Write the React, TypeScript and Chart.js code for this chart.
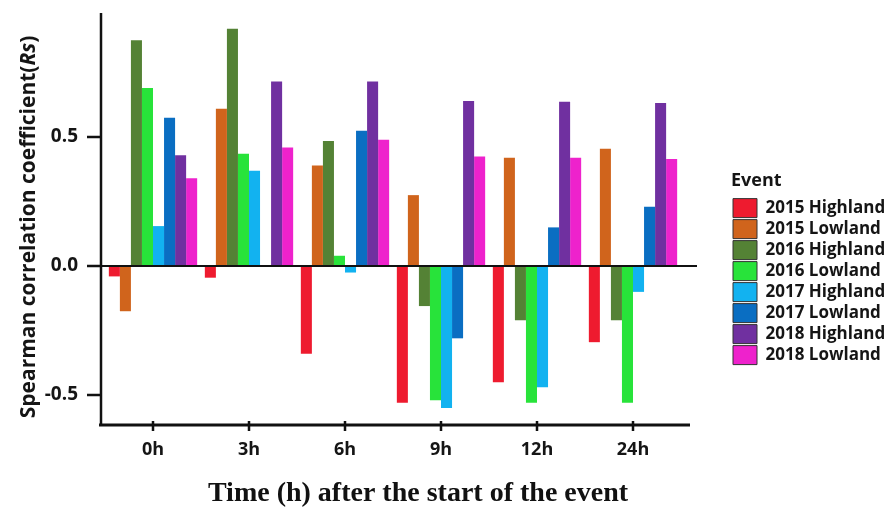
import React, { useEffect, useRef } from 'react';
import { Chart, registerables } from 'chart.js';

Chart.register(...registerables);

// ---- data ----
const categories = ['0h', '3h', '6h', '9h', '12h', '24h'];
const seriesNames = [
  '2015 Highland', '2015 Lowland', '2016 Highland', '2016 Lowland',
  '2017 Highland', '2017 Lowland', '2018 Highland', '2018 Lowland',
];
const highland2015 = [-0.04, -0.045, -0.34, -0.53, -0.45, -0.295];
const lowland2015 = [-0.175, 0.61, 0.39, 0.275, 0.42, 0.455];
const highland2016 = [0.875, 0.92, 0.485, -0.155, -0.21, -0.21];
const lowland2016 = [0.69, 0.435, 0.04, -0.52, -0.53, -0.53];
const highland2017 = [0.155, 0.37, -0.025, -0.55, -0.47, -0.1];
const lowland2017: (number | null)[] = [0.575, null, 0.525, -0.28, 0.15, 0.23];
const highland2018 = [0.43, 0.715, 0.715, 0.64, 0.637, 0.632];
const lowland2018 = [0.34, 0.46, 0.49, 0.425, 0.42, 0.415];
const yTickValues = [-0.5, 0, 0.5];

const seriesValues = [
  highland2015, lowland2015, highland2016, lowland2016,
  highland2017, lowland2017, highland2018, lowland2018,
];
const seriesColors = [
  '#EE1B2F', '#D0641C', '#548235', '#28E33A',
  '#12B2F0', '#0A6EC2', '#7030A0', '#EE22CC',
];

const FONT = '"Open Sans", "Liberation Sans", sans-serif';
const TEXT = '#151515';
const CAT_SPACING = 96; // px per category

const axesPlugin = {
  id: 'axesLines',
  afterDatasetsDraw(chart: any) {
    const { ctx, chartArea, scales } = chart;
    const x = scales.x;
    const y = scales.y;
    const axX = chartArea.left - 4;
    ctx.save();
    ctx.strokeStyle = '#111';
    ctx.lineCap = 'butt';
    // zero line
    ctx.lineWidth = 2;
    const z = y.getPixelForValue(0);
    ctx.beginPath();
    ctx.moveTo(axX, z);
    ctx.lineTo(x.getPixelForValue(categories.length - 1) + 64, z);
    ctx.stroke();
    // y axis
    ctx.lineWidth = 2.5;
    ctx.beginPath();
    ctx.moveTo(axX, chartArea.top);
    ctx.lineTo(axX, chartArea.bottom + 1);
    yTickValues.forEach((v) => {
      const py = y.getPixelForValue(v);
      ctx.moveTo(axX - 14, py);
      ctx.lineTo(axX, py);
    });
    ctx.stroke();
    // x axis
    ctx.lineWidth = 3;
    ctx.beginPath();
    ctx.moveTo(axX - 2, chartArea.bottom);
    ctx.lineTo(x.getPixelForValue(categories.length - 1) + 57, chartArea.bottom);
    ctx.stroke();
    ctx.lineWidth = 2.5;
    ctx.beginPath();
    categories.forEach((_, i) => {
      const px = x.getPixelForValue(i);
      ctx.moveTo(px, chartArea.bottom - 4);
      ctx.lineTo(px, chartArea.bottom + 6);
    });
    ctx.stroke();

    // y axis title with italic "Rs"
    const parts = [
      { t: 'Spearman correlation coefficient(', f: `bold 21px ${FONT}` },
      { t: 'Rs', f: `italic bold 21px ${FONT}` },
      { t: ')', f: `bold 21px ${FONT}` },
    ];
    let total = 0;
    const widths = parts.map((p) => {
      ctx.font = p.f;
      const w = ctx.measureText(p.t).width;
      total += w;
      return w;
    });
    ctx.translate(35, 227);
    ctx.rotate(-Math.PI / 2);
    ctx.fillStyle = TEXT;
    ctx.textAlign = 'left';
    ctx.textBaseline = 'alphabetic';
    let cx = -total / 2;
    parts.forEach((p, i) => {
      ctx.font = p.f;
      ctx.fillText(p.t, cx, 0);
      cx += widths[i];
    });
    ctx.restore();
  },
};

export default function App() {
  const canvasRef = useRef<HTMLCanvasElement | null>(null);

  useEffect(() => {
    const canvas = canvasRef.current;
    if (!canvas) return;
    const datasets = seriesNames.map((name, si) => ({
      label: name,
      data: seriesValues[si]
        .map((v, i) => ({ x: i, y: v }))
        .filter((p) => p.y !== null),
      backgroundColor: seriesColors[si],
      borderWidth: 0,
      categoryPercentage: 0.92,
      barPercentage: 1.0,
    }));

    const chart = new Chart(canvas, {
      type: 'bar',
      data: { datasets: datasets as any },
      plugins: [axesPlugin],
      options: {
        animation: false,
        responsive: false,
        maintainAspectRatio: false,
        layout: { padding: { top: 13, left: 0, right: 0, bottom: 0 } },
        scales: {
          x: {
            type: 'linear',
            bounds: 'data',
            offset: false,
            grid: { display: false },
            border: { display: false },
            afterDataLimits: (s: any) => {
              s.min = -0.5;
              s.max = -0.5 + s.width / CAT_SPACING;
            },
            afterBuildTicks: (s: any) => {
              s.ticks = categories.map((_, i) => ({ value: i }));
            },
            afterFit: (s: any) => {
              s.height = 87;
              s.paddingLeft = 0;
              s.paddingRight = 0;
            },
            ticks: {
              autoSkip: false,
              maxRotation: 0,
              padding: 6,
              color: TEXT,
              font: { family: FONT, size: 18, weight: 'bold' },
              callback: (v: any) => categories[Math.round(Number(v))] ?? '',
            },
            title: {
              display: true,
              text: 'Time (h) after the start of the event',
              color: '#111',
              font: { family: '"Liberation Serif", "Times New Roman", serif', size: 28, weight: 'bold' },
              padding: { top: 0, bottom: 1 },
            },
          },
          y: {
            min: -0.616,
            max: 0.981,
            grid: { display: false },
            border: { display: false },
            afterBuildTicks: (s: any) => {
              s.ticks = yTickValues.map((v) => ({ value: v }));
            },
            afterFit: (s: any) => {
              s.width = 105;
              s.paddingTop = 0;
              s.paddingBottom = 0;
            },
            ticks: {
              padding: 19,
              color: TEXT,
              font: { family: FONT, size: 19, weight: 'bold' },
              callback: (v: any) => Number(v).toFixed(1),
            },
          },
        },
        plugins: {
          tooltip: { enabled: false },
          legend: {
            position: 'right',
            align: 'start',
            maxWidth: 159,
            title: {
              display: true,
              text: 'Event',
              position: 'start',
              color: TEXT,
              font: { family: FONT, size: 18, weight: 'bold' },
              padding: { top: 159, bottom: 3 },
            },
            labels: {
              boxWidth: 24,
              boxHeight: 19,
              padding: 2,
              color: TEXT,
              font: { family: FONT, size: 17, weight: 'bold' },
              generateLabels: (c: any) =>
                c.data.datasets.map((ds: any, i: number) => ({
                  text: ds.label,
                  fillStyle: ds.backgroundColor,
                  strokeStyle: '#333',
                  lineWidth: 1,
                  hidden: false,
                  datasetIndex: i,
                })),
            },
          },
        },
      } as any,
    });
    return () => chart.destroy();
  }, []);

  return (
    <div style={{ position: 'absolute', left: 0, top: 0, width: 890, height: 512, background: '#fff' }}>
      <canvas ref={canvasRef} width={890} height={512} style={{ display: 'block' }} />
    </div>
  );
}
